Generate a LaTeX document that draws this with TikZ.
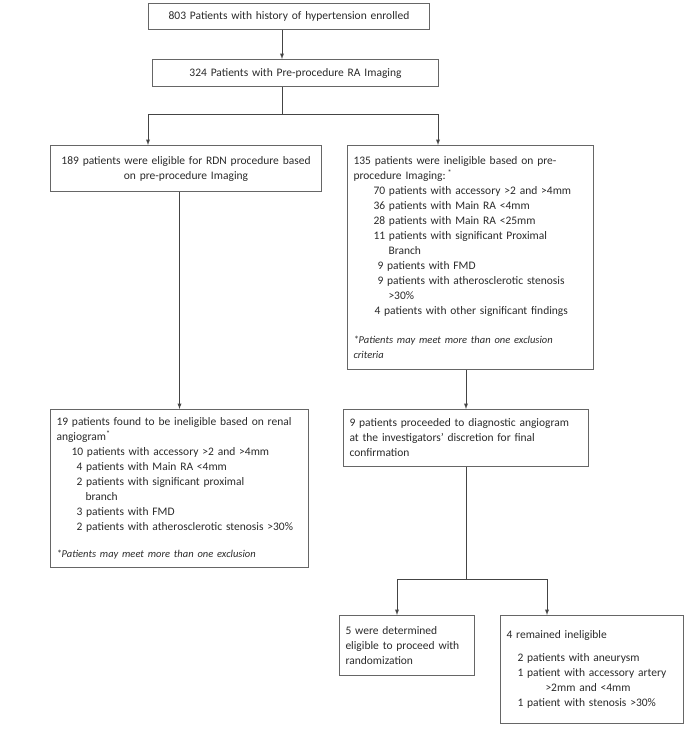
\documentclass[tikz,border=0pt]{standalone}
\usepackage{fontspec}
\setmainfont{Carlito}
\usepackage{tikz}
\usetikzlibrary{arrows}
\definecolor{boxgray}{HTML}{666666}
\definecolor{linegray}{HTML}{444444}
\definecolor{txtgray}{HTML}{2A2A2A}
\hyphenpenalty=10000

\begin{document}
\begin{tikzpicture}[x=1pt,y=-1pt,>=latex,font=\fontsize{11.5}{15}\selectfont]
\tikzstyle{rec} = [rectangle,draw=boxgray,line width=1pt,anchor=north west,text=txtgray,inner xsep=6pt,inner ysep=3pt,align=left]
\tikzstyle{link} = [draw=linegray,line width=0.9pt]
\useasboundingbox (0,0) rectangle (696,736);

\node[rec,align=center](enrolled) at (148,3) [text width=269pt,minimum height=26pt] {803 Patients with history of hypertension enrolled};
\node[rec,align=center](imaging) at (152,59) [text width=274pt,minimum height=27pt] {324 Patients with Pre-procedure RA Imaging};

\node[rec,align=center](eligible) at (50,145) [text width=259pt,minimum height=46pt] {189 patients were eligible for RDN procedure based\\ on pre-procedure Imaging};
\node[rec](ineligible) at (347,145) [text width=234pt,minimum height=224pt] {135 patients were ineligible based on pre-\\
procedure Imaging:\,\textsuperscript{*}\\
\hspace*{20pt}70 patients with accessory >2 and >4mm\\
\hspace*{20pt}36 patients with Main RA <4mm\\
\hspace*{20pt}28 patients with Main RA <25mm\\
\hspace*{20pt}11 patients with significant Proximal\\
\hspace*{35pt}Branch\\
\hspace*{24pt}9 patients with FMD\\
\hspace*{24pt}9 patients with atherosclerotic stenosis\\
\hspace*{35pt}>30\%\\
\hspace*{21pt}4 patients with other significant findings\\[14pt]
{\itshape\fontsize{10.5}{14}\selectfont *Patients may meet more than one exclusion}\\
{\itshape\fontsize{10.5}{14}\selectfont criteria}};

\node[rec](renal) at (50,409) [text width=246pt,minimum height=158pt] {19 patients found to be ineligible based on renal\\
angiogram\textsuperscript{*}\\
\hspace*{15pt}10 patients with accessory >2 and >4mm\\
\hspace*{20pt}4 patients with Main RA <4mm\\
\hspace*{20pt}2 patients with significant proximal\\
\hspace*{29pt}branch\\
\hspace*{20pt}3 patients with FMD\\
\hspace*{20pt}2 patients with atherosclerotic stenosis >30\%\\[12pt]
{\itshape\fontsize{10.5}{14}\selectfont *Patients may meet more than one exclusion}};
\node[rec](angiogram) at (343,409) [text width=233pt,minimum height=57pt] {9 patients proceeded to diagnostic angiogram\\
at the investigators' discretion for final\\
confirmation};

\node[rec](random) at (339,615) [text width=123pt,minimum height=60pt] {5 were determined\\
eligible to proceed with\\
randomization};
\node[rec](remained) at (500,615) [text width=171pt,minimum height=108pt] {4 remained ineligible\\[8pt]
\hspace*{11pt}2 patients with aneurysm\\
\hspace*{11pt}1 patient with accessory artery\\
\hspace*{39pt}>2mm and <4mm\\
\hspace*{11pt}1 patient with stenosis >30\%};

% junction points
\coordinate (spine) at (282,114);
\coordinate (splitl) at (148,114);
\coordinate (splitr) at (438,114);
\coordinate (forkl) at (397,579);
\coordinate (forkr) at (547,579);

\draw [link,->] (enrolled.south -| spine) -- (imaging.north -| spine);
\draw [link] (imaging.south -| spine) -- (spine);
\draw [link,->] (spine) -- (splitl) -- (eligible.north -| splitl);
\draw [link,->] (spine) -- (splitr) -- (ineligible.north -| splitr);

\draw [link,->] (eligible.south -| renal.north) -- (renal.north);
\draw [link,->] (ineligible.south -| angiogram.north) -- (angiogram.north);

\draw [link] (angiogram.south) -- (angiogram.south |- forkl);
\draw [link,->] (angiogram.south |- forkl) -- (forkl) -- (random.north -| forkl);
\draw [link,->] (angiogram.south |- forkr) -- (forkr) -- (remained.north -| forkr);

\end{tikzpicture}
\end{document}
